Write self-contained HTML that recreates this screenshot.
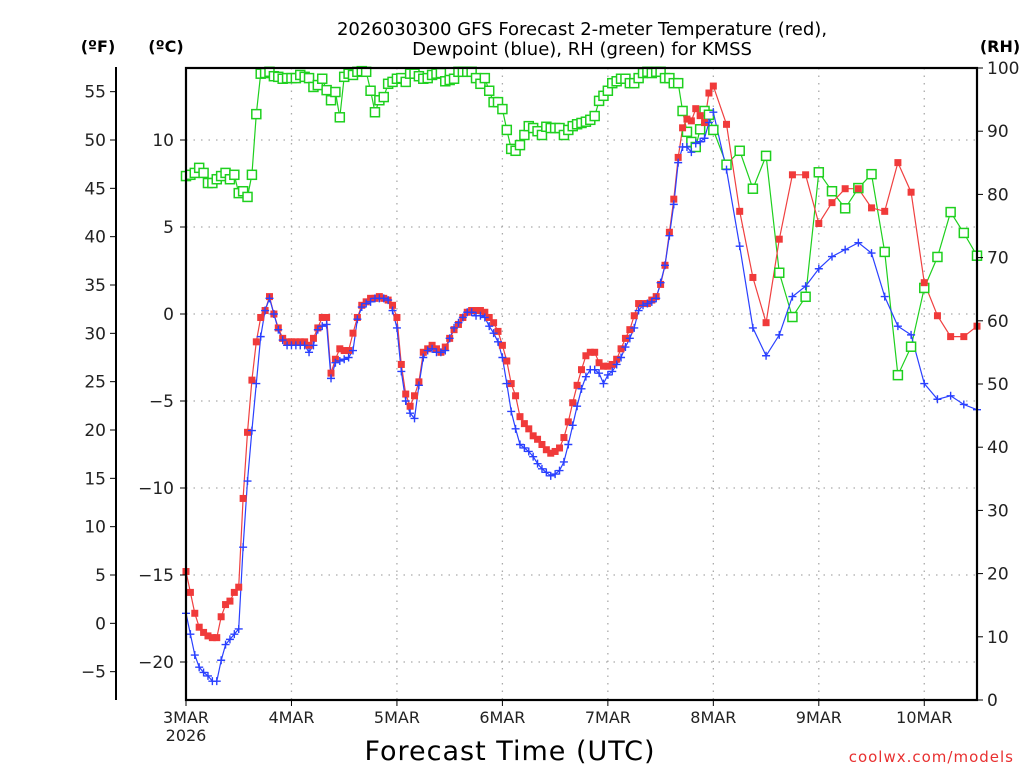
<!DOCTYPE html>
<html><head><meta charset="utf-8"><style>
html,body{margin:0;padding:0;background:#fff;}
svg{display:block;font-family:"DejaVu Sans","Liberation Sans",sans-serif;}
</style></head><body>
<svg id="chart" width="1024" height="768" viewBox="0 0 1024 768" xmlns="http://www.w3.org/2000/svg">
<text x="582" y="35" font-size="18" text-anchor="middle" fill="#000">2026030300 GFS Forecast 2-meter Temperature (red),</text>
<text x="582" y="55" font-size="18" text-anchor="middle" fill="#000">Dewpoint (blue), RH (green) for KMSS</text>
<text x="98" y="52" font-size="16" font-weight="bold" text-anchor="middle">(ºF)</text>
<text x="166" y="52" font-size="16" font-weight="bold" text-anchor="middle">(ºC)</text>
<text x="1000" y="52" font-size="16" font-weight="bold" text-anchor="middle">(RH)</text>
<text x="510" y="760" font-size="27" text-anchor="middle" letter-spacing="1">Forecast Time (UTC)</text>
<text x="1014" y="762" font-size="15" text-anchor="end" fill="#e83030" letter-spacing="1">coolwx.com/models</text>
<g id="grid"></g><g id="series"></g><g id="axes"></g>
</svg>
<script>
const hoursA=[0,1,2,3,4,5,6,7,8,9,10,11,12,13,14,15,16,17,18,19,20,21,22,23,24,25,26,27,28,29,30,31,32,33,34,35,36,37,38,39,40,41,42,43,44,45,46,47,48,49,50,51,52,53,54,55,56,57,58,59,60,61,62,63,64,65,66,67,68,69,70,71,72,73,74,75,76,77,78,79,80,81,82,83,84,85,86,87,88,89,90,91,92,93,94,95,96,97,98,99,100,101,102,103,104,105,106,107,108,109,110,111,112,113,114,115,116,117,118,119,120,123,126,129,132,135,138,141,144,147,150,153,156,159,162,165,168,171,174,177,180];
const tempC=[-14.8,-16.0,-17.2,-18.0,-18.3,-18.5,-18.6,-18.6,-17.4,-16.7,-16.5,-16.0,-15.7,-10.6,-6.8,-3.8,-1.6,-0.2,0.2,1.0,0,-0.8,-1.4,-1.6,-1.6,-1.6,-1.6,-1.6,-1.8,-1.4,-0.8,-0.2,-0.2,-3.4,-2.6,-2.0,-2.1,-2.1,-1.1,-0.2,0.5,0.7,0.9,0.9,1.0,0.9,0.8,0.5,-0.2,-2.9,-4.6,-5.3,-4.7,-3.9,-2.2,-2.0,-1.8,-2.0,-2.2,-1.9,-1.4,-0.9,-0.6,-0.2,0.1,0.2,0.2,0.2,0.1,-0.2,-0.5,-1.0,-1.8,-2.7,-4.0,-4.7,-5.9,-6.3,-6.6,-7.0,-7.2,-7.5,-7.8,-8.0,-7.9,-7.7,-7.1,-6.2,-5.1,-4.1,-3.2,-2.4,-2.2,-2.2,-2.8,-3.0,-3.0,-2.9,-2.6,-2.0,-1.4,-0.9,-0.1,0.6,0.6,0.6,0.8,1.0,1.7,2.8,4.7,6.6,9.0,10.7,11.2,11.1,11.8,11.4,11.0,12.7,13.1,10.9,5.9,2.1,-0.5,4.3,8.0,8.0,5.2,6.4,7.2,7.2,6.1,5.9,8.7,7.0,1.8,-0.1,-1.3,-1.3,-0.7];
const dewC=[-17.2,-18.4,-19.6,-20.3,-20.6,-20.8,-21.1,-21.1,-19.9,-19.0,-18.7,-18.4,-18.1,-13.4,-9.6,-6.7,-4.0,-1.3,0.2,0.9,0,-0.9,-1.5,-1.8,-1.8,-1.8,-1.8,-1.8,-2.2,-1.8,-0.9,-0.7,-0.6,-3.7,-2.8,-2.7,-2.6,-2.5,-2.1,-0.3,0.4,0.6,0.7,0.9,0.9,0.9,0.8,0.2,-0.8,-3.3,-5.0,-5.7,-6.0,-4.1,-2.5,-2.1,-2.0,-2.2,-2.2,-2.1,-1.4,-0.8,-0.5,-0.2,0.1,0.1,-0.1,-0.1,-0.2,-0.7,-1.1,-1.6,-2.5,-4.0,-5.6,-6.6,-7.5,-7.7,-7.9,-8.2,-8.6,-8.9,-9.1,-9.3,-9.2,-9.0,-8.5,-7.5,-6.4,-5.3,-4.3,-3.6,-3.2,-3.2,-3.4,-4.0,-3.5,-3.3,-2.9,-2.5,-1.9,-1.4,-0.8,0.2,0.5,0.6,0.7,0.9,1.8,2.8,4.5,6.3,8.7,9.6,9.6,9.3,9.8,9.9,10.1,11.0,11.6,8.3,3.9,-0.8,-2.4,-1.2,1.0,1.6,2.6,3.3,3.7,4.1,3.5,1.0,-0.7,-1.2,-4.0,-4.9,-4.7,-5.2,-5.5];
const rhPct=[82.9,83.1,83.4,84.2,83.4,81.8,81.8,82.4,82.9,83.4,82.4,83.1,80.2,80.5,79.6,83.1,92.7,99.1,99.2,99.4,98.7,98.6,98.3,98.4,98.4,98.4,98.9,98.6,98.4,97.0,97.3,98.3,96.5,94.9,96.2,92.2,98.6,99.1,98.9,99.4,99.5,99.4,96.4,93.0,94.9,95.4,97.5,97.8,98.3,98.4,97.8,99.1,99.1,98.7,98.3,98.4,98.9,99.1,99.2,97.9,98.1,98.3,99.4,99.4,99.4,99.4,98.4,97.5,98.4,96.4,94.6,94.6,93.5,90.2,87.2,86.9,87.8,89.4,90.8,90.5,90.0,89.4,90.7,90.5,90.5,90.5,89.4,90.2,90.8,91.1,91.3,91.5,91.8,92.4,94.8,95.6,96.4,97.6,97.9,98.3,98.3,97.6,97.6,98.4,99.2,99.4,99.2,99.4,99.4,98.4,98.4,97.6,97.6,93.2,89.9,88.3,87.5,90.3,93.2,92.6,90.2,84.7,86.9,80.9,86.1,67.6,60.6,63.8,83.5,80.5,77.8,81.0,83.2,70.9,51.4,55.9,65.2,70.1,77.2,73.9,70.3];
const dayLabels=["3MAR","4MAR","5MAR","6MAR","7MAR","8MAR","9MAR","10MAR"];
const cTicks=[10,5,0,-5,-10,-15,-20];
const fTicks=[55,50,45,40,35,30,25,20,15,10,5,0,-5];
const rhTicks=[0,10,20,30,40,50,60,70,80,90,100];

const NS="http://www.w3.org/2000/svg";
const L=186,R=977,T=68,B=700;
const xS=h=>L+h*(R-L)/180;
const yC=c=>314-c*17.4;
const yF=f=>yC((f-32)*5/9);
const yRH=r=>B-r*(B-T)/100;
function mk(tag,attrs,parent){const e=document.createElementNS(NS,tag);for(const k in attrs)e.setAttribute(k,attrs[k]);parent.appendChild(e);return e;}
const grid=document.getElementById('grid'),series=document.getElementById('series'),axes=document.getElementById('axes');

cTicks.forEach(c=>{const y=yC(c);
 const g=mk('line',{x1:L,x2:R,y1:y,y2:y,stroke:'#aaa','stroke-width':1.3,'stroke-dasharray':'1.5,6'},grid);
 
 
 mk('line',{x1:L-6,x2:L,y1:y,y2:y,stroke:'#000','stroke-width':1},axes);
 const t=mk('text',{x:L-12,y:y+6,'font-size':17,'text-anchor':'end',fill:'#222'},axes);t.textContent=(c<0?'\u2212':'')+Math.abs(c);
 
 
});
dayLabels.forEach((d,i)=>{const x=xS(i*24);
 if(i>0){const g=mk('line',{x1:x,x2:x,y1:T,y2:B,stroke:'#aaa','stroke-width':1.3,'stroke-dasharray':'1.5,6'},grid);
 
 }
 mk('line',{x1:x,x2:x,y1:B,y2:B+6,stroke:'#000','stroke-width':1},axes);
 const t=mk('text',{x:x,y:723,'font-size':16,'text-anchor':'middle',fill:'#222'},axes);t.textContent=d;
 
 
});
const yr=mk('text',{x:L,y:741,'font-size':16,'text-anchor':'middle',fill:'#222'},axes);yr.textContent='2026';


fTicks.forEach(f=>{const y=yF(f);
 mk('line',{x1:110,x2:116,y1:y,y2:y,stroke:'#000','stroke-width':1},axes);
 const t=mk('text',{x:106,y:y+6,'font-size':17,'text-anchor':'end',fill:'#222'},axes);t.textContent=(f<0?'\u2212':'')+Math.abs(f);
 
 
});
rhTicks.forEach(r=>{const y=yRH(r);
 mk('line',{x1:R,x2:R+6,y1:y,y2:y,stroke:'#000','stroke-width':1},axes);
 const t=mk('text',{x:R+10,y:y+6,'font-size':17,'text-anchor':'start',fill:'#222'},axes);t.textContent=r;
 
 
});
const fa=mk('line',{x1:116,x2:116,y1:T-1,y2:B,stroke:'#000','stroke-width':2},axes);


const fr=mk('rect',{x:L,y:T,width:R-L,height:B-T,fill:'none',stroke:'#000','stroke-width':2.2},axes);



function drawLine(vals,yf,color,name){
 const pts=vals.map((v,i)=>xS(hoursA[i]).toFixed(1)+','+yf(v).toFixed(1)).join(' ');
 const p=mk('polyline',{points:pts,fill:'none',stroke:color,'stroke-width':1.2},series);
 
 
}
drawLine(rhPct,yRH,'#1ed01e','rh-line');
drawLine(tempC,yC,'#f04040','temperature-line');
drawLine(dewC,yC,'#2a40ff','dewpoint-line');
const gG=mk('g',{},series);
rhPct.forEach((v,i)=>{const x=xS(hoursA[i]),y=yRH(v);
 const m=mk('rect',{x:x-4.5,y:y-4.5,width:9,height:9,fill:'#fff',stroke:'#1ed01e','stroke-width':1.5},gG);
 
 
});
const gR=mk('g',{},series);
tempC.forEach((v,i)=>{const x=xS(hoursA[i]),y=yC(v);
 const m=mk('rect',{x:x-3.5,y:y-3.5,width:7,height:7,fill:'#f03a3a'},gR);
 
 
});
const gB=mk('g',{},series);
dewC.forEach((v,i)=>{const x=xS(hoursA[i]),y=yC(v);
 const m=mk('path',{d:`M${x-4},${y}H${x+4}M${x},${y-4}V${y+4}`,stroke:'#2a40ff','stroke-width':1.4,fill:'none'},gB);
 
 
});
</script>
</body></html>
